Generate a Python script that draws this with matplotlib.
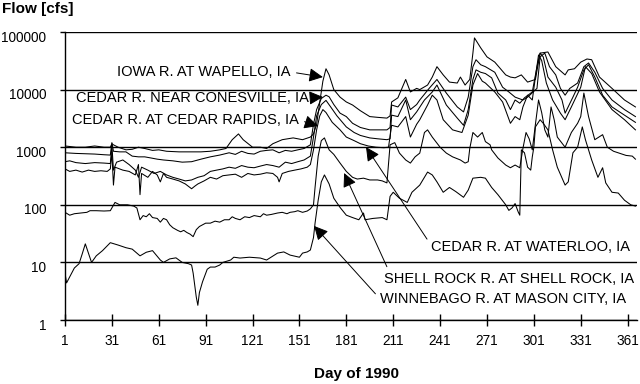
import matplotlib.pyplot as plt
from matplotlib.ticker import NullLocator
from matplotlib.transforms import ScaledTranslation

# daily flow [cfs] at selected days of 1990
iowa_days = [1, 8, 14, 20, 26, 30, 31, 32, 35, 40, 44, 48, 52, 57, 61, 66, 74, 82, 88, 94, 100, 104,
             108, 112, 115, 121, 126, 130, 134, 140, 147, 153, 158, 160, 162, 164, 166, 168, 170, 173,
             177, 181, 185, 190, 196, 201, 207, 209, 210, 214, 219, 222, 226, 228, 233, 236, 239, 243,
             247, 252, 254, 257, 260, 262, 263, 267, 271, 276, 283, 286, 289, 293, 297, 302, 305, 310,
             315, 321, 323, 327, 331, 335, 338, 343, 351, 359, 366]
iowa_flow = [1050, 1000, 1000, 1050, 1000, 1000, 1150, 1100, 1000, 900, 920, 1000, 950, 880, 900, 850,
             830, 830, 830, 850, 900, 950, 1350, 1700, 1350, 1000, 1000, 950, 1150, 1350, 1450, 1350,
             1500, 1700, 2500, 6000, 14000, 23000, 18000, 10000, 7400, 6100, 5400, 4300, 3400, 3300,
             3200, 3500, 6100, 7200, 15000, 9100, 10500, 10000, 12000, 16500, 25000, 18000, 13500,
             13000, 16500, 12000, 15000, 43000, 79000, 53000, 37000, 30000, 18000, 16500, 16000, 18000,
             13500, 15000, 43000, 45000, 25000, 18000, 22000, 23000, 30000, 34000, 33000, 16500, 10500,
             6600, 5000]

conesville_days = [1, 8, 14, 20, 26, 30, 31, 32, 36, 40, 44, 48, 52, 56, 60, 64, 70, 76, 82, 88, 94,
                   100, 106, 110, 114, 118, 122, 126, 130, 134, 138, 142, 146, 150, 154, 158, 160, 162,
                   165, 168, 170, 173, 177, 181, 185, 190, 196, 201, 207, 209, 210, 214, 219, 222, 226,
                   228, 234, 239, 245, 252, 256, 259, 262, 264, 267, 270, 276, 281, 285, 289, 294, 297,
                   303, 305, 308, 311, 315, 318, 321, 324, 329, 333, 336, 340, 345, 351, 359, 366]
conesville_flow = [800, 780, 770, 760, 740, 730, 1200, 850, 830, 830, 700, 680, 680, 650, 620, 600, 580,
                   550, 560, 620, 680, 730, 800, 750, 850, 780, 760, 850, 880, 900, 800, 880, 850, 900,
                   950, 1100, 2500, 4500, 7000, 8000, 7500, 5500, 3900, 3400, 2600, 2200, 2000, 2000,
                   2000, 2200, 5400, 5000, 7400, 4500, 5500, 6600, 10500, 15000, 8700, 5000, 4100, 7400,
                   25000, 33000, 27000, 25000, 20000, 11000, 9100, 7400, 6600, 7400, 10500, 37000, 43000,
                   25000, 18000, 10500, 8000, 10500, 13000, 25000, 29000, 20000, 10500, 6600, 4500, 3400]

rapids_days = [1, 4, 8, 14, 20, 26, 30, 31, 32, 34, 38, 42, 46, 48, 50, 54, 58, 62, 66, 70, 74, 78, 82,
               86, 90, 94, 98, 102, 106, 110, 114, 118, 122, 126, 130, 134, 138, 142, 146, 150, 154, 158,
               160, 162, 165, 168, 171, 175, 181, 186, 190, 196, 201, 207, 209, 210, 214, 219, 222, 226,
               231, 236, 239, 245, 252, 256, 259, 262, 264, 267, 270, 274, 278, 283, 286, 289, 292, 295,
               300, 303, 305, 307, 310, 315, 319, 321, 326, 329, 333, 336, 340, 345, 351, 359, 366]
rapids_flow = [560, 580, 540, 520, 540, 530, 520, 1100, 400, 550, 600, 500, 400, 300, 450, 400, 350, 380,
               330, 300, 280, 260, 270, 300, 320, 380, 400, 420, 450, 430, 480, 450, 440, 470, 500, 480,
               450, 550, 520, 560, 600, 700, 1500, 3500, 5500, 6500, 5000, 3500, 2250, 1800, 1600, 1450,
               1400, 1350, 1400, 3600, 3400, 6600, 3000, 4100, 6600, 9100, 12000, 5400, 3200, 2400, 4500,
               15000, 22000, 20000, 19000, 16000, 8700, 6600, 4500, 6600, 5800, 7200, 9100, 25000, 43000,
               37000, 16500, 11000, 6600, 3900, 7400, 11000, 22000, 27000, 16500, 8000, 5000, 3600, 2700]

waterloo_days = [1, 4, 8, 12, 16, 20, 24, 28, 30, 31, 32, 33, 38, 42, 46, 48, 49, 50, 54, 57, 60, 62,
                 64, 66, 70, 74, 78, 82, 84, 86, 90, 94, 98, 102, 106, 110, 114, 118, 122, 126, 130, 134,
                 137, 138, 140, 144, 148, 152, 156, 158, 160, 162, 164, 166, 168, 172, 177, 181, 186, 190,
                 195, 200, 205, 208, 210, 214, 219, 222, 226, 228, 233, 236, 239, 243, 249, 255, 259, 262,
                 265, 268, 270, 276, 281, 286, 289, 292, 294, 297, 300, 302, 304, 306, 309, 313, 318, 321,
                 325, 331, 334, 338, 343, 351, 359, 366]
waterloo_flow = [420, 380, 400, 370, 400, 380, 390, 380, 420, 800, 220, 450, 400, 380, 330, 500, 150,
                 350, 300, 380, 330, 250, 350, 300, 280, 260, 230, 190, 210, 230, 260, 300, 280, 320, 330,
                 340, 300, 350, 330, 340, 360, 350, 300, 250, 350, 380, 400, 420, 450, 500, 900, 2000,
                 3500, 4500, 4000, 2700, 2000, 1500, 1300, 1150, 1050, 1000, 980, 1000, 2400, 2250, 3400,
                 1500, 2500, 3000, 5400, 8000, 6600, 3000, 2000, 1800, 3600, 12000, 19000, 14000, 13000,
                 9100, 6100, 2600, 3400, 3000, 5000, 8000, 6600, 16500, 40000, 32000, 13000, 6600, 3900,
                 3000, 5000, 11000, 25000, 19000, 9100, 4500, 3000, 2000]

shellrock_days = [1, 4, 7, 11, 15, 17, 21, 26, 30, 33, 36, 41, 45, 47, 49, 51, 53, 55, 57, 60, 62, 64,
                  66, 68, 70, 73, 75, 77, 79, 81, 83, 85, 87, 89, 91, 94, 97, 100, 103, 106, 108, 110,
                  113, 116, 119, 122, 126, 128, 130, 133, 137, 140, 143, 145, 148, 150, 153, 156, 158,
                  160, 161, 163, 165, 167, 170, 173, 177, 181, 185, 188, 192, 196, 201, 204, 207, 209,
                  212, 215, 219, 222, 225, 228, 231, 233, 236, 241, 245, 249, 254, 257, 259, 260, 262,
                  265, 268, 270, 273, 274, 278, 283, 286, 289, 292, 294, 296, 298, 300, 302, 304, 306,
                  308, 310, 312, 314, 316, 321, 325, 329, 331, 333, 336, 340, 345, 348, 352, 355, 360,
                  364, 366]
shellrock_flow = [74, 66, 70, 72, 74, 79, 79, 78, 79, 110, 100, 100, 95, 88, 55, 65, 62, 70, 60, 58, 50,
                  58, 55, 45, 40, 36, 34, 36, 33, 31, 28, 37, 42, 45, 48, 48, 52, 50, 55, 55, 62, 58, 55,
                  62, 60, 65, 62, 70, 66, 68, 72, 74, 70, 74, 76, 79, 74, 78, 85, 100, 200, 700, 1300,
                  1450, 900, 750, 530, 380, 300, 280, 290, 270, 270, 260, 240, 1100, 1200, 790, 600, 530,
                  680, 790, 1800, 2000, 1500, 1000, 790, 680, 600, 530, 560, 950, 1800, 1500, 1800, 1250,
                  1100, 900, 650, 490, 440, 490, 440, 950, 1800, 1400, 900, 2500, 6600, 4000, 2000, 1500,
                  5000, 3000, 1500, 1000, 1800, 2600, 3400, 8700, 3400, 1350, 1650, 1000, 850, 800, 720,
                  700, 620]

winnebago_days = [1, 2, 4, 7, 10, 12, 14, 17, 18, 21, 25, 30, 35, 40, 44, 49, 53, 57, 62, 64, 68, 72,
                  76, 80, 82, 83, 85, 86, 87, 89, 92, 94, 97, 100, 102, 107, 109, 113, 119, 126, 130,
                  137, 141, 145, 151, 153, 156, 158, 160, 161, 163, 165, 167, 170, 173, 177, 181, 185,
                  189, 192, 193, 198, 204, 207, 209, 211, 215, 220, 223, 228, 233, 236, 239, 243, 247,
                  251, 256, 259, 262, 267, 270, 274, 278, 283, 285, 287, 289, 291, 292, 293, 295, 297,
                  299, 300, 301, 302, 305, 307, 310, 313, 316, 321, 323, 326, 329, 332, 334, 338, 342,
                  345, 347, 351, 355, 359, 363, 366]
winnebago_flow = [6.5, 4.4, 5.6, 8, 9.5, 14, 21, 12, 10, 13, 16, 22, 20, 18, 17, 13, 15, 16, 11, 10,
                  11.5, 12, 10, 9.5, 9, 6.5, 2.5, 1.8, 3, 4.6, 7.6, 8.3, 8.3, 9, 10, 11, 12.3, 11.9,
                  12.3, 11.9, 11, 14.5, 15.2, 13.4, 12.3, 14.5, 15.2, 16.4, 27, 48, 120, 250, 330, 230,
                  130, 90, 66, 60, 55, 72, 55, 58, 60, 55, 140, 165, 130, 110, 165, 220, 370, 330, 250,
                  165, 200, 170, 135, 180, 290, 300, 290, 200, 150, 100, 80, 88, 105, 75, 66, 900, 800,
                  450, 400, 680, 1000, 2250, 3000, 2600, 2000, 900, 450, 220, 250, 800, 1000, 2250, 1350,
                  600, 300, 440, 240, 165, 160, 120, 100, 95]

series = [(iowa_days, iowa_flow), (conesville_days, conesville_flow), (rapids_days, rapids_flow),
          (waterloo_days, waterloo_flow), (shellrock_days, shellrock_flow),
          (winnebago_days, winnebago_flow)]

station_names = ['IOWA R. AT WAPELLO, IA', 'CEDAR R. NEAR CONESVILLE, IA',
                 'CEDAR R. AT CEDAR RAPIDS, IA', 'CEDAR R. AT WATERLOO, IA',
                 'SHELL ROCK R. AT SHELL ROCK, IA', 'WINNEBAGO R. AT MASON CITY, IA']

y_ticks = [1, 10, 100, 1000, 10000, 100000]
x_ticks = list(range(1, 362, 30))

plt.rcParams['font.family'] = ['Liberation Sans', 'DejaVu Sans']

fig = plt.figure(figsize=(6.4, 3.84), dpi=100)
ax = fig.add_axes([65 / 640, 64 / 384, 572 / 640, 288 / 384])

for days, flow in series:
    ax.plot(days, flow, color='black', lw=0.75)

ax.set_yscale('log')
ax.set_ylim(1, 100000)
ax.set_xlim(1, 367)
ax.set_yticks(y_ticks)
ax.set_yticklabels([str(v) for v in y_ticks])
ax.yaxis.set_minor_locator(NullLocator())
ax.set_xticks(x_ticks)
ax.set_xticklabels([str(v) for v in x_ticks])
ax.grid(axis='y', color='black', lw=1.0)
ax.set_axisbelow(True)
for side in ['top', 'right']:
    ax.spines[side].set_visible(False)
for side in ['left', 'bottom']:
    ax.spines[side].set_linewidth(1.0)
ax.tick_params(axis='x', direction='inout', length=8.6, width=1, pad=6, labelsize=9.8)
ax.tick_params(axis='y', direction='out', length=3.6, width=1, pad=10, labelsize=9.8)
shift = ScaledTranslation(0, -0.04, fig.dpi_scale_trans)
for lab in ax.get_yticklabels():
    lab.set_transform(lab.get_transform() + shift)

fig.text(2 / 640, 1 - 9 / 384, 'Flow [cfs]', fontsize=11, fontweight='bold', va='center', ha='left')
fig.text(356 / 640, 1 - 374 / 384, 'Day of 1990', fontsize=11, fontweight='bold',
         va='center', ha='center')

head = '-|>,head_length=0.6,head_width=0.3'
def label(i, xy, xytext, ha, relpos):
    ax.annotate(station_names[i], xy=xy, xytext=xytext, textcoords='data', ha=ha, va='center',
                fontsize=10.5,
                arrowprops=dict(arrowstyle=head, color='black', lw=0.7, mutation_scale=14,
                                shrinkA=2, shrinkB=0, relpos=relpos))

label(0, (166, 16500), (145.6, 20200), 'right', (1, 0.5))
label(1, (166, 7450), (157.2, 7150), 'right', (1, 0.5))
label(2, (162.9, 2330), (150.8, 2970), 'right', (1, 0.5))
label(3, (193.6, 1007), (235.4, 18.5), 'left', (0, 0.6))
label(4, (179.6, 356), (205.3, 5.15), 'left', (0.02, 1.0))
label(5, (160.4, 42.9), (202.6, 2.32), 'left', (0, 0.5))

fig.savefig('out.png', dpi=100)
